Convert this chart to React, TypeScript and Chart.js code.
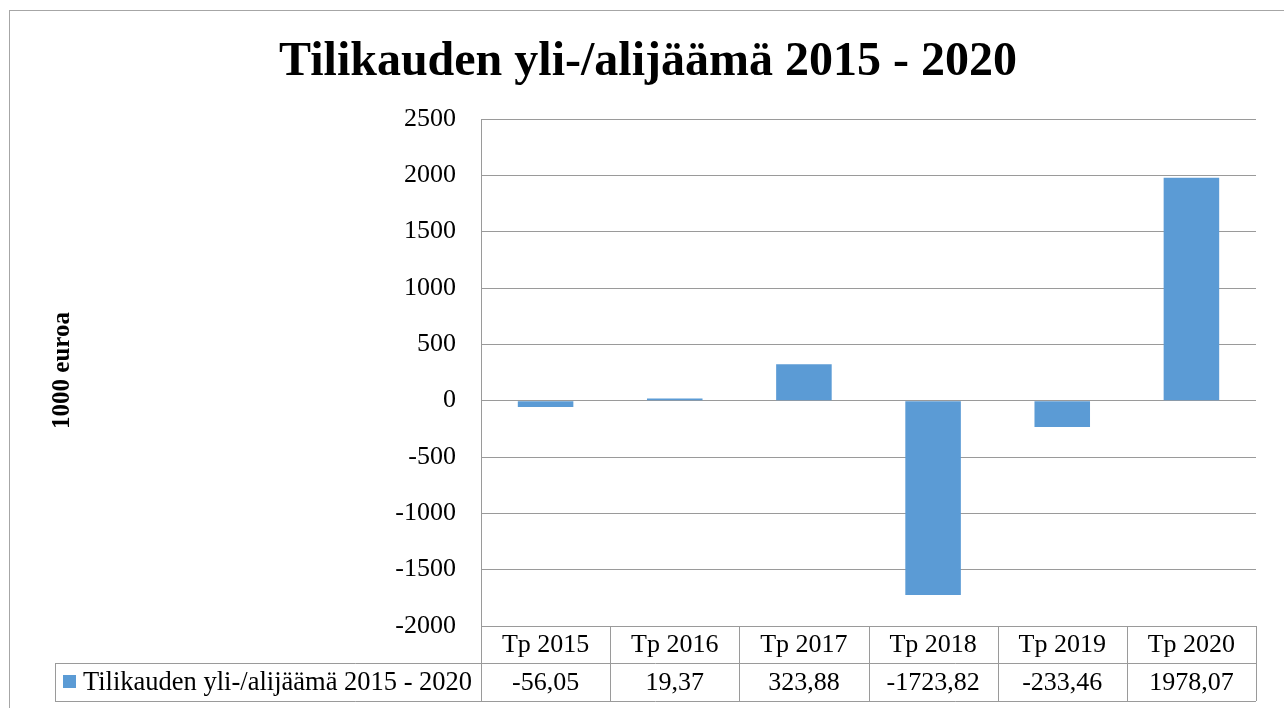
import React, { useEffect, useRef } from "react";
import { Chart, registerables } from "chart.js";

Chart.register(...registerables);

const title = "Tilikauden yli-/alijäämä 2015 - 2020";
const yTitle = "1000 euroa";
const categories = ["Tp 2015", "Tp 2016", "Tp 2017", "Tp 2018", "Tp 2019", "Tp 2020"];
const values = [-56.05, 19.37, 323.88, -1723.82, -233.46, 1978.07];
const seriesName = "Tilikauden yli-/alijäämä 2015 - 2020";
const yMin = -2000;
const yMax = 2500;
const yStep = 500;

const FONT = "'Liberation Serif', 'Times New Roman', serif";
const BAR = "#5B9BD5";
const GRID = "#9a9a9a";

const fmt = (v: number) => v.toFixed(2).replace(".", ",");

const overlay = {
  id: "overlay",
  afterDraw(chart: any) {
    const ctx = chart.ctx as CanvasRenderingContext2D;
    const area = chart.chartArea;
    const x = chart.scales.x;
    ctx.save();
    // outer border
    ctx.strokeStyle = "#a6a6a6";
    ctx.lineWidth = 1;
    ctx.strokeRect(9.5, 10.5, 1400, 800);
    // title
    ctx.fillStyle = "#000";
    ctx.font = `bold 48px ${FONT}`;
    ctx.textAlign = "center";
    ctx.textBaseline = "alphabetic";
    ctx.fillText(title, 648, 75);
    // y title
    ctx.save();
    ctx.translate(69, (area.top + area.bottom) / 2 - 2);
    ctx.rotate(-Math.PI / 2);
    ctx.font = `bold 25px ${FONT}`;
    ctx.textAlign = "center";
    ctx.textBaseline = "alphabetic";
    ctx.fillText(yTitle, 0, 0);
    ctx.restore();
    // data table
    const top = area.bottom;
    const mid = 663;
    const bot = 701;
    const legLeft = 55;
    const colW = (area.right - area.left) / categories.length;
    ctx.strokeStyle = GRID;
    ctx.beginPath();
    ctx.moveTo(area.left, top + 0.5);
    ctx.lineTo(area.right, top + 0.5);
    ctx.moveTo(legLeft, mid + 0.5);
    ctx.lineTo(area.right, mid + 0.5);
    ctx.moveTo(legLeft, bot + 0.5);
    ctx.lineTo(area.right, bot + 0.5);
    ctx.moveTo(legLeft + 0.5, mid);
    ctx.lineTo(legLeft + 0.5, bot);
    for (let i = 0; i <= categories.length; i++) {
      const xx = Math.round(area.left + i * colW) + 0.5;
      ctx.moveTo(xx, top);
      ctx.lineTo(xx, bot);
    }
    ctx.stroke();
    ctx.font = `26px ${FONT}`;
    ctx.textAlign = "center";
    ctx.textBaseline = "middle";
    ctx.fillStyle = "#000";
    categories.forEach((c, i) => {
      const cx = x.getPixelForValue(i);
      ctx.fillText(c, cx, (top + mid) / 2 + 1);
      ctx.fillText(fmt(values[i]), cx, (mid + bot) / 2 + 1);
    });
    // legend
    ctx.fillStyle = BAR;
    ctx.fillRect(63, 675, 13, 13);
    ctx.fillStyle = "#000";
    ctx.textAlign = "left";
    ctx.font = `26.5px ${FONT}`;
    ctx.fillText(seriesName, 83, (mid + bot) / 2 + 1);
    ctx.restore();
  },
};

export default function App() {
  const ref = useRef<HTMLCanvasElement>(null);
  useEffect(() => {
    if (!ref.current) return;
    const chart = new Chart(ref.current, {
      type: "bar",
      data: {
        labels: categories,
        datasets: [
          {
            label: seriesName,
            data: values,
            backgroundColor: BAR,
            barPercentage: 0.43,
            categoryPercentage: 1,
          },
        ],
      },
      options: {
        animation: false,
        responsive: false,
        maintainAspectRatio: false,
        layout: { padding: { top: 119, right: 28, bottom: 82, left: 0 } },
        plugins: { legend: { display: false }, title: { display: false }, tooltip: { enabled: false } },
        scales: {
          x: { display: false, grid: { display: false } },
          y: {
            min: yMin,
            max: yMax,
            afterFit: (s: any) => {
              s.width = 481;
            },
            ticks: {
              stepSize: yStep,
              padding: 25,
              color: "#000",
              font: { family: FONT, size: 26 },
              callback: (v: any) => String(v),
            },
            grid: { color: GRID, drawTicks: false, lineWidth: 1 },
            border: { display: true, color: GRID },
          },
        },
      },
      plugins: [overlay],
    });
    return () => chart.destroy();
  }, []);
  return (
    <div style={{ position: "absolute", left: 0, top: 0, width: 1284, height: 708, background: "#fff" }}>
      <canvas ref={ref} width={1284} height={708} style={{ width: 1284, height: 708, display: "block" }} />
    </div>
  );
}
